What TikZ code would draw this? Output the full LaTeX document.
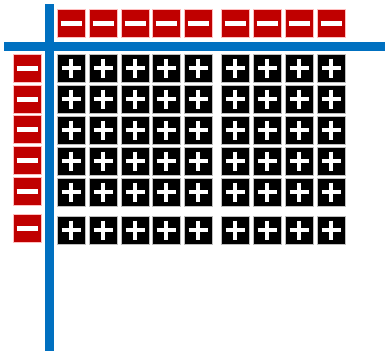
\documentclass[tikz,border=0pt]{standalone}
\usepackage{tikz}
\usetikzlibrary{positioning, calc}
\usepackage{xcolor}
\definecolor{axisblue}{RGB}{0,112,192}
\definecolor{tilered}{RGB}{192,0,0}

\tikzset{
    plustile/.style={draw=gray!50, line width=0.8, fill=black, minimum width=28, minimum height=28, inner sep=0,
        path picture={
            \draw[white, line width=4.5] ($(path picture bounding box.center)+(-9.5,0)$) -- ++(19,0);
            \draw[white, line width=4.5] ($(path picture bounding box.center)+(0,-9.5)$) -- ++(0,19);
        }},
    minustile/.style={draw=red!25, line width=0.8, fill=tilered, minimum width=28, minimum height=28, inner sep=0,
        path picture={
            \draw[white, line width=5] ($(path picture bounding box.center)+(-10.5,0)$) -- ++(21,0);
        }}
}

\begin{document}
\begin{tikzpicture}[x=1pt, y=-1pt]
    \useasboundingbox (0,0) rectangle (385,351);

    % Axes
    \fill[axisblue] (45,4) rectangle (54,351);
    \fill[axisblue] (4,42) rectangle (385,51);

    % Negative tiles along the top
    \foreach \x [count=\c] in {71,103,135,166,198,235,267,299,331}
        \node[minustile] (minus-top-\c) at (\x,23.5) {};

    % Negative tiles down the side
    \foreach \y [count=\r] in {68,99,129,160,191,228}
        \node[minustile] (minus-left-\r) at (27,\y) {};

    % Products
    \foreach \y [count=\r] in {68,99,130,161,192,230}
        \foreach \x [count=\c] in {71,103,135,166,198,235,267,299,331}
            \node[plustile] (plus-\r-\c) at (\x,\y) {};
\end{tikzpicture}
\end{document}
